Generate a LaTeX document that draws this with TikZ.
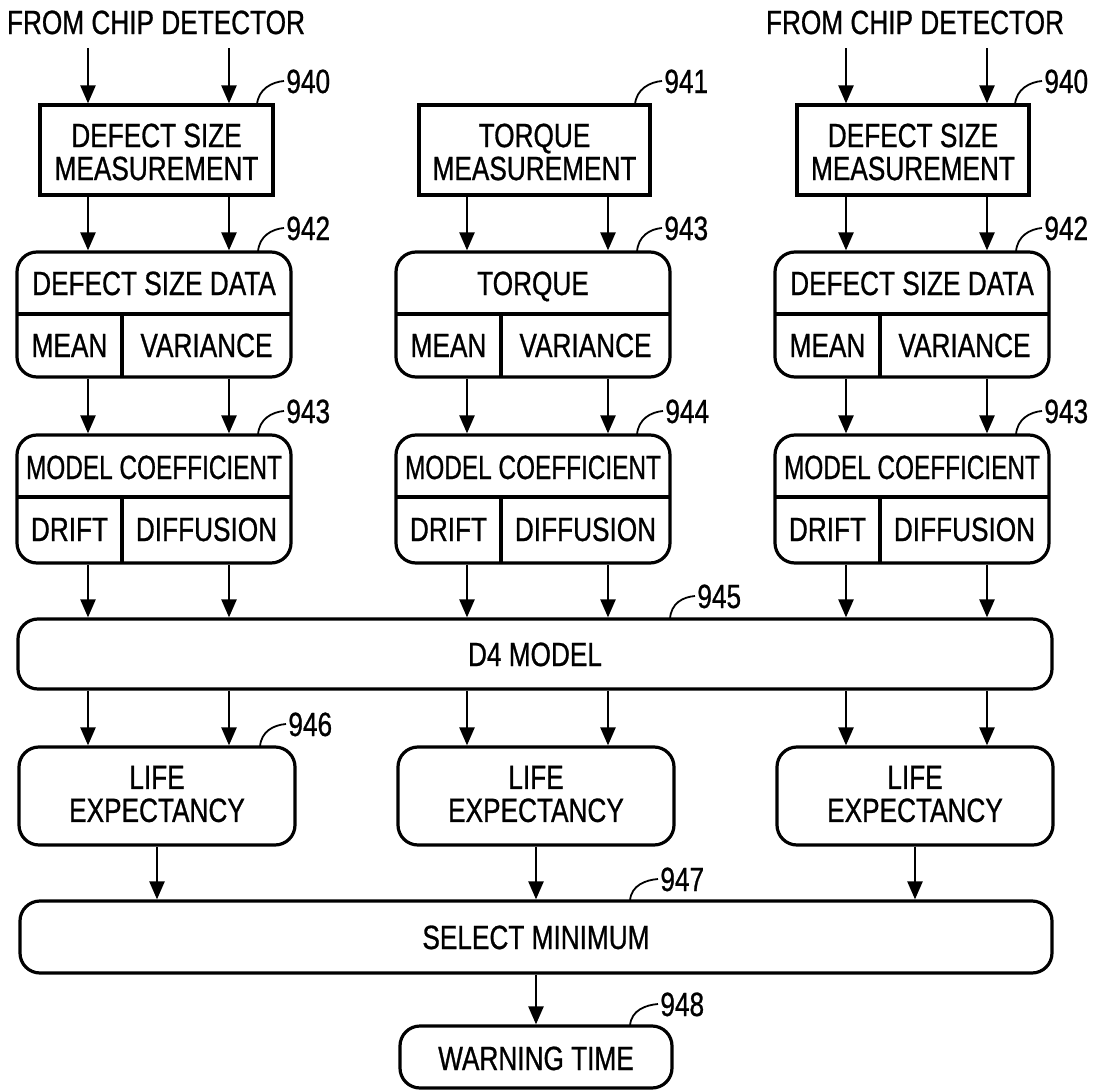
\documentclass[tikz,border=0pt]{standalone}
\usepackage{fontspec}
\setmainfont{Liberation Sans}[FakeStretch=0.78,FakeBold=0.8]
\usepackage{graphicx}
\usetikzlibrary{arrows.meta,fit}
\begin{document}
\begin{tikzpicture}[x=0.5pt,y=-0.5pt,
  font=\fontsize{16.8}{16.5}\selectfont,
  box/.style={draw, line width=1.6pt, inner sep=0pt},
  rbox/.style={box, rounded corners=10pt},
  txt/.style={inner sep=0pt, text height=12pt, text depth=0pt},
  txtb/.style={inner sep=0pt, align=center},
  arr/.style={line width=1.2pt, -{Triangle[length=9pt,width=7.5pt]}},
  lead/.style={line width=0.9pt},
  div/.style={line width=1.6pt},
  num/.style={inner sep=0pt, anchor=west, text height=12pt, text depth=0pt}]
\useasboundingbox (0,0) rectangle (1099,1092);

% sources
\node[txt] (srcL) at (156,22) {FROM CHIP DETECTOR};
\node[txt] (srcR) at (915,22) {FROM CHIP DETECTOR};

% measurement boxes
\node[box, fit={(40,105) (273,195)}] (b940L) {};
\node[box, fit={(419,105) (650,195)}] (b941) {};
\node[box, fit={(797,105) (1029,195)}] (b940R) {};
\node[txtb] (x940L) at (156.5,152) {DEFECT SIZE\\MEASUREMENT};
\node[txtb] (x941) at (534.5,152) {TORQUE\\MEASUREMENT};
\node[txtb] (x940R) at (913,152) {DEFECT SIZE\\MEASUREMENT};

% data boxes
\node[rbox, fit={(17,252) (291,377)}] (b942L) {};
\node[rbox, fit={(396,252) (670,377)}] (b943M) {};
\node[rbox, fit={(775,252) (1049,377)}] (b942R) {};
\draw[div] (17,314) -- (291,314) (122,314) -- (122,377);
\draw[div] (396,314) -- (670,314) (501,314) -- (501,377);
\draw[div] (775,314) -- (1049,314) (880,314) -- (880,377);
\node[txt] (t942L) at (154,283) {DEFECT SIZE DATA};
\node[txt] (m942L) at (69.5,345) {MEAN};
\node[txt] (v942L) at (206.5,345) {VARIANCE};
\node[txt] (t943M) at (533,283) {TORQUE};
\node[txt] (m943M) at (448.5,345) {MEAN};
\node[txt] (v943M) at (585.5,345) {VARIANCE};
\node[txt] (t942R) at (912,283) {DEFECT SIZE DATA};
\node[txt] (m942R) at (827.5,345) {MEAN};
\node[txt] (v942R) at (964.5,345) {VARIANCE};

% model coefficient boxes
\node[rbox, fit={(17,435) (291,563)}] (b943L) {};
\node[rbox, fit={(396,435) (670,563)}] (b944) {};
\node[rbox, fit={(775,435) (1049,563)}] (b943R) {};
\draw[div] (17,497) -- (291,497) (122,497) -- (122,563);
\draw[div] (396,497) -- (670,497) (501,497) -- (501,563);
\draw[div] (775,497) -- (1049,497) (880,497) -- (880,563);
\node[txt] (t943L) at (154,467) {\scalebox{0.93}[1]{MODEL COEFFICIENT}};
\node[txt] (d943L) at (69.5,529) {DRIFT};
\node[txt] (f943L) at (206.5,529) {DIFFUSION};
\node[txt] (t944) at (533,467) {\scalebox{0.93}[1]{MODEL COEFFICIENT}};
\node[txt] (d944) at (448.5,529) {DRIFT};
\node[txt] (f944) at (585.5,529) {DIFFUSION};
\node[txt] (t943R) at (912,467) {\scalebox{0.93}[1]{MODEL COEFFICIENT}};
\node[txt] (d943R) at (827.5,529) {DRIFT};
\node[txt] (f943R) at (964.5,529) {DIFFUSION};

% D4 model
\node[rbox, fit={(18,619) (1052,689)}] (d4) {};
\node[txt] (xd4) at (535,654) {D4 MODEL};

% life expectancy
\node[rbox, fit={(19,747) (295,845)}] (lifeL) {};
\node[rbox, fit={(398,747) (674,845)}] (lifeM) {};
\node[rbox, fit={(777,747) (1053,845)}] (lifeR) {};
\node[txtb] (xlifeL) at (157,794) {LIFE\\EXPECTANCY};
\node[txtb] (xlifeM) at (536,794) {LIFE\\EXPECTANCY};
\node[txtb] (xlifeR) at (915,794) {LIFE\\EXPECTANCY};

% select / warning
\node[rbox, fit={(20,901) (1052,973)}] (sel) {};
\node[txt] (xsel) at (536,937) {SELECT MINIMUM};
\node[rbox, fit={(400,1026) (672,1088)}] (warn) {};
\node[txt] (xwarn) at (536,1058) {WARNING TIME};

% arrows
\foreach \x in {88,229} \draw[arr] ([yshift=-7pt]srcL.south -| \x,0) -- (b940L.north -| \x,0);
\foreach \x in {846,987} \draw[arr] ([yshift=-7pt]srcR.south -| \x,0) -- (b940R.north -| \x,0);
\foreach \a/\b in {b940L/b942L, b942L/b943L, b943L/d4, d4/lifeL}
  \foreach \x in {88,229} \draw[arr] (\a.south -| \x,0) -- (\b.north -| \x,0);
\foreach \a/\b in {b941/b943M, b943M/b944, b944/d4, d4/lifeM}
  \foreach \x in {467,608} \draw[arr] (\a.south -| \x,0) -- (\b.north -| \x,0);
\foreach \a/\b in {b940R/b942R, b942R/b943R, b943R/d4, d4/lifeR}
  \foreach \x in {846,987} \draw[arr] (\a.south -| \x,0) -- (\b.north -| \x,0);
\foreach \a in {lifeL,lifeM,lifeR} \draw[arr] (\a.south) -- (sel.north -| \a.south);
\draw[arr] (sel.south -| warn.north) -- (warn.north);

% reference numbers with leaders
\foreach \n/\tx/\ty/\sx/\sy/\lab in {
  n940L/286/81/257/105/940, n942L/286/228/258/252/942, n943L/286/411/258/435/943,
  n941/664/81/635/105/941, n943M/664/228/637/252/943, n944/665/411/637/435/944,
  n940R/1044/81/1015/105/940, n942R/1044/228/1016/252/942, n943R/1044/411/1016/435/943,
  n945/697/596/670/619/945, n946/288/724/260/747/946,
  n947/660/879/630/901/947, n948/660/1004/630/1026/948}{
  \node[num] (\n) at (\tx,\ty) {\lab};
  \coordinate (c\n) at (\sx,\sy);
  \draw[lead] (c\n) .. controls +(1,-16) and +(-12,1) .. ([xshift=-1pt]\n.west);
}
\end{tikzpicture}
\end{document}
